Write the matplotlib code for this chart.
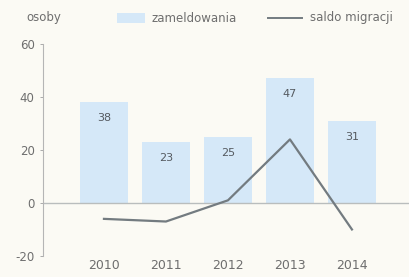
import matplotlib
matplotlib.use("Agg")
import matplotlib.pyplot as plt
from matplotlib.lines import Line2D
from matplotlib.patches import Rectangle

years = ["2010", "2011", "2012", "2013", "2014"]
zameldowania = [38, 23, 25, 47, 31]
saldo = [-6, -7, 1, 24, -10]
yticks = [-20, 0, 20, 40, 60]

bg = "#fbfaf4"
bar_c = "#d5e8f8"
line_c = "#737b80"
txt_c = "#6e6e6e"
W, H = 409, 277

fig = plt.figure(figsize=(4.09, 2.77), dpi=100, facecolor=bg)
ax = fig.add_axes([0.105, 0.076, 0.895, 0.765], facecolor=bg)
x = list(range(len(years)))
ax.bar(x, zameldowania, width=0.77, color=bar_c, zorder=1)
ax.plot(x, saldo, color=line_c, lw=1.6, zorder=3)
ax.axhline(0, color="#b9bdbd", lw=1.0, zorder=2)
for xi, v in zip(x, zameldowania):
    ax.text(xi, v - 6, str(v), ha="center", va="center", fontsize=8, color="#555a60")

ax.set_xlim(-0.984, 4.92)
ax.set_ylim(-20, 60)
ax.set_yticks(yticks)
ax.set_yticklabels([str(t) for t in yticks], fontsize=8.5, color=txt_c)
ax.set_xticks(x)
ax.set_xticklabels(years, fontsize=9, color=txt_c)
ax.tick_params(axis="x", length=0, pad=2.5)
ax.tick_params(axis="y", length=2.5, width=0.7, color="#aaaaaa", pad=3.5)
for s in ["top", "right", "bottom"]:
    ax.spines[s].set_visible(False)
ax.spines["left"].set_color("#b5b5b5")
ax.spines["left"].set_linewidth(0.8)

# header: unit label and legend
fy = 1 - 18 / H
fig.text(26 / W, fy, "osoby", fontsize=8.5, color=txt_c, ha="left", va="center")
fig.patches.append(Rectangle((117 / W, 1 - 23 / H), 28 / W, 10 / H, transform=fig.transFigure,
                             facecolor=bar_c, edgecolor="none"))
fig.text(152 / W, fy, "zameldowania", fontsize=8.5, color=txt_c, ha="left", va="center")
fig.lines.append(Line2D([268 / W, 302 / W], [fy, fy], transform=fig.transFigure,
                        color=line_c, lw=1.4))
fig.text(310 / W, fy, "saldo migracji", fontsize=8.5, color=txt_c, ha="left", va="center")

fig.savefig("out.png", dpi=100, facecolor=bg)
